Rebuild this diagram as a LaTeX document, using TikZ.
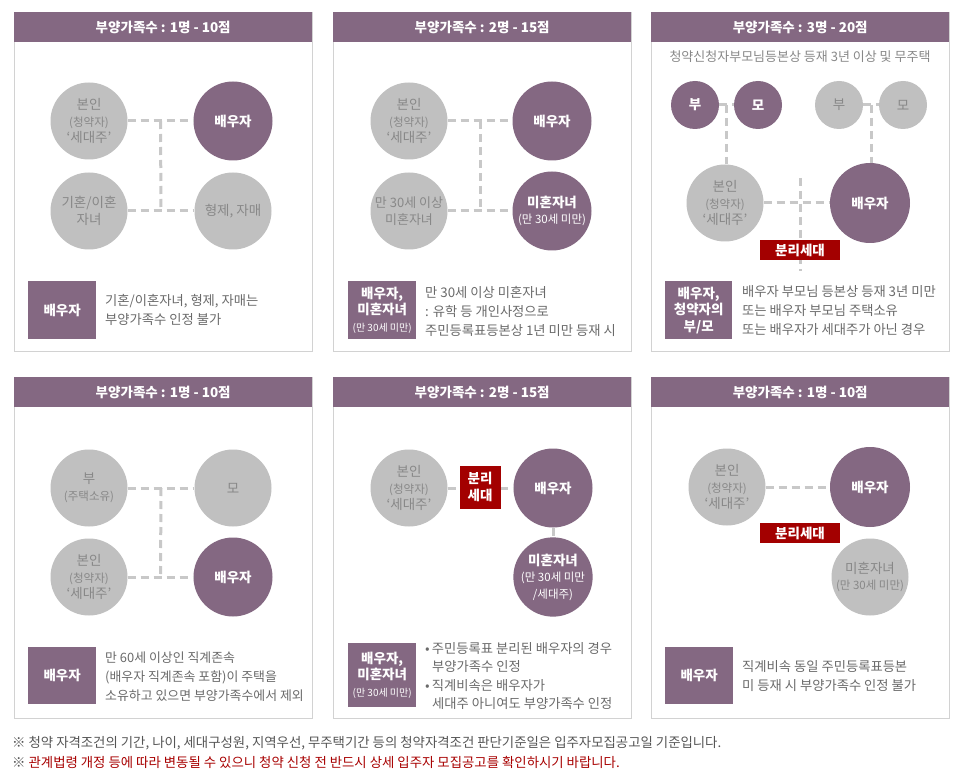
\documentclass[tikz,border=0pt]{standalone}
\usepackage{fontspec}
\setmainfont{Noto Sans CJK KR}
\usetikzlibrary{calc}
\definecolor{purp}{HTML}{846882}
\definecolor{grayc}{HTML}{C0C0C0}
\definecolor{graytxt}{HTML}{888888}
\definecolor{desc}{HTML}{6A6A6A}
\definecolor{dashc}{HTML}{C8C8C8}
\definecolor{redbox}{HTML}{A30000}
\definecolor{framec}{HTML}{D2D2D2}
\definecolor{foot}{HTML}{555555}
\definecolor{footred}{HTML}{A80000}
\newcommand\fsz[1]{\fontsize{#1}{16.5}\selectfont}
\tikzset{
  panelbox/.style={draw=framec, line width=1pt, fill=white, minimum width=298, minimum height=339, anchor=north west, inner sep=0},
  headbox/.style={fill=purp, text=white, minimum width=298, minimum height=30, anchor=north west, inner sep=0, font=\fsz{13.5}\bfseries},
  gcirc/.style={circle, fill=grayc, text=graytxt, minimum size=#1, inner sep=0, align=center, font=\fsz{13.5}},
  gcirc/.default=77,
  pcirc/.style={circle, fill=purp, text=white, minimum size=#1, inner sep=0, align=center, font=\fsz{13.5}\bfseries},
  pcirc/.default=79,
  conn/.style={draw=dashc, line width=3pt, dash pattern=on 8pt off 5pt},
  tagbox/.style={fill=purp, text=white, inner sep=0, align=center, font=\fsz{13.5}\bfseries},
  redtag/.style={fill=redbox, text=white, inner sep=0, align=center, font=\fsz{13.5}\bfseries},
  desctext/.style={text=desc, anchor=west, align=left, inner sep=0, font=\fontsize{13.3}{19}\selectfont},
  subtxt/.style={text=graytxt, font=\fsz{13}},
}
\begin{document}
\begin{tikzpicture}[x=1pt,y=-1pt]
\path[use as bounding box, fill=white] (0,0) rectangle (972,778);
% ===== Panel frames =====
\node[panelbox] (p1) at (14,12) {};
\node[headbox] (h1) at (14,12) {부양가족수 : 1명 - 10점};
\node[panelbox] (p2) at (333,12) {};
\node[headbox] (h2) at (333,12) {부양가족수 : 2명 - 15점};
\node[panelbox] (p3) at (651,12) {};
\node[headbox] (h3) at (651,12) {부양가족수 : 3명 - 20점};
\node[panelbox, minimum height=341] (p4) at (14,377) {};
\node[headbox] (h4) at (14,377) {부양가족수 : 1명 - 10점};
\node[panelbox, minimum height=341] (p5) at (333,377) {};
\node[headbox] (h5) at (333,377) {부양가족수 : 2명 - 15점};
\node[panelbox, minimum height=341] (p6) at (651,377) {};
\node[headbox] (h6) at (651,377) {부양가족수 : 1명 - 10점};

% ===== Panel 1 =====
\node[gcirc] (a1) at (89,121) {본인\\{\fsz{11.5}(청약자)}\\‘세대주’};
\node[pcirc] (b1) at (233,121) {배우자};
\node[gcirc] (c1) at (89,211) {기혼/이혼\\자녀};
\node[gcirc] (d1) at (233,211) {형제, 자매};
\draw[conn] (a1.east) -- (b1.west);
\draw[conn] (c1.east) -- (d1.west);
\draw[conn] ($(a1.east)!0.5!(b1.west)$) -- ($(c1.east)!0.5!(d1.west)$);
\node[tagbox, minimum width=68, minimum height=58, anchor=north west] (t1) at (28,281) {배우자};
\node[desctext] (e1) at (105,310) {기혼/이혼자녀, 형제, 자매는\\부양가족수 인정 불가};

% ===== Panel 2 =====
\node[gcirc] (a2) at (409,121) {본인\\{\fsz{11.5}(청약자)}\\‘세대주’};
\node[pcirc] (b2) at (552,121) {배우자};
\node[gcirc] (c2) at (409,211) {\fsz{13}만 30세 이상\\\fsz{13}미혼자녀};
\node[pcirc] (d2) at (552,211) {미혼자녀\\{\fsz{11.5}\mdseries(만 30세 미만)}};
\draw[conn] (a2.east) -- (b2.west);
\draw[conn] (c2.east) -- (d2.west);
\draw[conn] ($(a2.east)!0.5!(b2.west)$) -- ($(c2.east)!0.5!(d2.west)$);
\node[tagbox, minimum width=68, minimum height=58, anchor=north west] (t2) at (348,281) {배우자,\\미혼자녀\\{\fontsize{10}{12}\selectfont\mdseries(만 30세 미만)}};
\node[desctext] (e2) at (425,311) {만 30세 이상 미혼자녀\\: 유학 등 개인사정으로\\주민등록표등본상 1년 미만 등재 시};

% ===== Panel 3 =====
\node[subtxt] (s3) at (800,57) {청약신청자부모님등본상 등재 3년 이상 및 무주택};
\node[pcirc=48] (f3) at (695,105) {부};
\node[pcirc=48] (m3) at (758,105) {모};
\node[gcirc=48] (f3b) at (839,105) {부};
\node[gcirc=48] (m3b) at (903,105) {모};
\node[gcirc] (a3) at (725,203) {본인\\{\fsz{11.5}(청약자)}\\‘세대주’};
\node[pcirc=80] (b3) at (870,203) {배우자};
\draw[conn] (f3.east) -- (m3.west);
\draw[conn] (f3b.east) -- (m3b.west);
\coordinate (j3) at ($(f3.east)!0.5!(m3.west)$);
\coordinate (j3b) at ($(f3b.east)!0.5!(m3b.west)$);
\draw[conn] (j3) -- (j3 |- a3.north);
\draw[conn] (j3b) -- (j3b |- b3.north);
\draw[conn] (a3.east) -- (b3.west);
\coordinate (v3t) at (800,178);
\coordinate (v3b) at (800,271);
\draw[conn] (v3t) -- (v3b);
\node[redtag, minimum width=80, minimum height=20] (r3) at (800,250) {분리세대};
\node[tagbox, minimum width=67, minimum height=58, anchor=north west] (t3) at (665,281) {배우자,\\청약자의\\부/모};
\node[desctext] (e3) at (742,311) {배우자 부모님 등본상 등재 3년 미만\\또는 배우자 부모님 주택소유\\또는 배우자가 세대주가 아닌 경우};

% ===== Panel 4 =====
\node[gcirc] (a4) at (89,488) {부\\{\fsz{11.5}(주택소유)}};
\node[gcirc] (b4) at (233,488) {모};
\node[gcirc] (c4) at (89,577) {본인\\{\fsz{11.5}(청약자)}\\‘세대주’};
\node[pcirc] (d4) at (233,577) {배우자};
\draw[conn] (a4.east) -- (b4.west);
\draw[conn] (c4.east) -- (d4.west);
\draw[conn] ($(a4.east)!0.5!(b4.west)$) -- ($(c4.east)!0.5!(d4.west)$);
\node[tagbox, minimum width=68, minimum height=57, anchor=north west] (t4) at (28,647) {배우자};
\node[desctext, font=\fontsize{12.9}{19}\selectfont] (e4) at (105,677) {만 60세 이상인 직계존속\\(배우자 직계존속 포함)이 주택을\\소유하고 있으면 부양가족수에서 제외};

% ===== Panel 5 =====
\node[gcirc] (a5) at (409,488) {본인\\{\fsz{11.5}(청약자)}\\‘세대주’};
\node[pcirc] (b5) at (553,488) {배우자};
\node[pcirc=77] (c5) at (553,577) {미혼자녀\\{\fsz{11.5}\mdseries(만 30세 미만}\\{\fsz{11.5}\mdseries/세대주)}};
\draw[conn] (a5.east) -- (b5.west);
\draw[conn] (b5.south) -- (c5.north);
\node[redtag, minimum width=41, minimum height=43] (r5) at (480,487) {분리\\세대};
\node[tagbox, minimum width=68, minimum height=64, anchor=north west] (t5) at (348,643) {배우자,\\미혼자녀\\{\fontsize{10}{12}\selectfont\mdseries(만 30세 미만)}};
\node[desctext, font=\fontsize{13.3}{18.5}\selectfont] (e5) at (425,676) {•\,주민등록표 분리된 배우자의 경우\\\hspace*{7pt}부양가족수 인정\\•\,직계비속은 배우자가\\\hspace*{7pt}세대주 아니여도 부양가족수 인정};

% ===== Panel 6 =====
\node[gcirc] (a6) at (727,487) {본인\\{\fsz{11.5}(청약자)}\\‘세대주’};
\node[pcirc=80] (b6) at (870,487) {배우자};
\node[gcirc] (c6) at (870,577) {미혼자녀\\{\fsz{11.5}(만 30세 미만)}};
\draw[conn] (a6.east) -- (b6.west);
\node[redtag, minimum width=80, minimum height=20] (r6) at (800,533) {분리세대};
\node[tagbox, minimum width=68, minimum height=57, anchor=north west] (t6) at (665,647) {배우자};
\node[desctext] (e6) at (742,676) {직계비속 동일 주민등록표등본\\미 등재 시 부양가족수 인정 불가};

% ===== Footer =====
\node[anchor=west, inner sep=0, text=foot, font=\fontsize{13.4}{15}\selectfont] (n1) at (12,743) {※ 청약 자격조건의 기간, 나이, 세대구성원, 지역우선, 무주택기간 등의 청약자격조건 판단기준일은 입주자모집공고일 기준입니다.};
\node[anchor=west, inner sep=0, font=\fontsize{13.4}{15}\selectfont] (n2) at (12,762) {\textcolor{foot}{※} \textcolor{footred}{관계법령 개정 등에 따라 변동될 수 있으니 청약 신청 전 반드시 상세 입주자 모집공고를 확인하시기 바랍니다.}};
\end{tikzpicture}
\end{document}
